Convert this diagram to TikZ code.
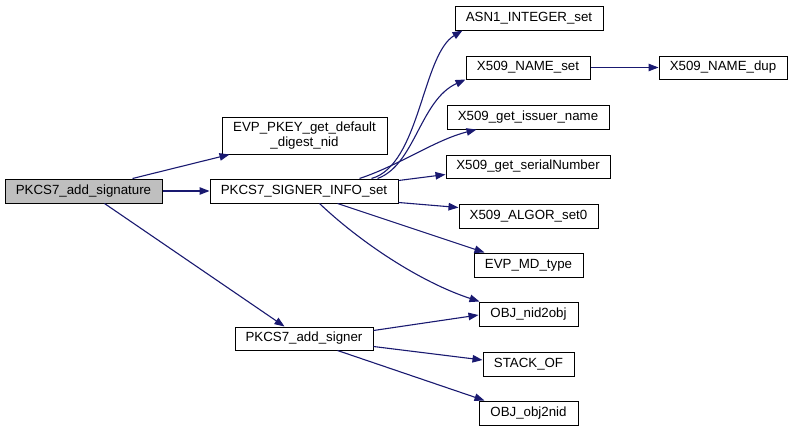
\documentclass[tikz,border=0pt]{standalone}
\usepackage{fontspec}
\setmainfont{Liberation Sans}
\usetikzlibrary{arrows.meta,calc}
\definecolor{edgecol}{HTML}{191970}
\definecolor{rootfill}{HTML}{BFBFBF}
\begin{document}
\begin{tikzpicture}[x=1pt,y=-1pt,
  box/.style={draw=black,line width=1pt,fill=white,inner sep=0pt,minimum height=24pt,
    font=\fontsize{13.3}{15}\selectfont,align=center},
  link/.style={draw=edgecol,line width=1.1pt,-{Triangle[length=10pt,width=7.5pt]}}]
\useasboundingbox (0,0) rectangle (793,431);
\node[box,fill=rootfill,minimum width=157pt] (sig) at (83.5,191) {PKCS7\_add\_signature};
\node[box,minimum width=165pt,minimum height=37pt] (evp) at (304.5,135.5) {EVP\_PKEY\_get\_default\\\_digest\_nid};
\node[box,minimum width=188pt] (sinfo) at (304,191) {PKCS7\_SIGNER\_INFO\_set};
\node[box,minimum width=148pt] (asn1) at (529,18) {ASN1\_INTEGER\_set};
\node[box,minimum width=124pt,minimum height=23pt] (nset) at (528,67.5) {X509\_NAME\_set};
\node[box,minimum width=128pt,minimum height=23pt] (ndup) at (723,67.5) {X509\_NAME\_dup};
\node[box,minimum width=162pt] (issuer) at (528,117) {X509\_get\_issuer\_name};
\node[box,minimum width=164pt,minimum height=23pt] (serial) at (528,166.5) {X509\_get\_serialNumber};
\node[box,minimum width=139pt] (algor) at (528.5,216) {X509\_ALGOR\_set0};
\node[box,minimum width=109pt] (mdtype) at (528.5,265) {EVP\_MD\_type};
\node[box,minimum width=99pt] (nid2obj) at (528.5,314) {OBJ\_nid2obj};
\node[box,minimum width=138pt,minimum height=23pt] (signer) at (304,338.5) {PKCS7\_add\_signer};
\node[box,minimum width=91pt] (stack) at (528.5,364) {STACK\_OF};
\node[box,minimum width=99pt] (obj2nid) at (528.5,413) {OBJ\_obj2nid};

\draw[link] ($(sig.north west)+(128,0)$) -- ($(evp.south west)+(8,0)$);
\draw[link] (sig.east) -- (sinfo.west);
\draw[link] ($(sig.south west)+(100,0)$) -- ($(signer.north west)+(50,0)$);

\draw[link] ($(sinfo.north west)+(162,0)$) .. controls (420,165) and (422,55) .. ($(asn1.south west)+(8,0)$);
\draw[link] ($(sinfo.north west)+(168,0)$) .. controls (415,165) and (420,100) .. ($(nset.south west)+(0,0)$);
\draw[link] ($(sinfo.north west)+(150,0)$) .. controls (400,165) and (435,140) .. ($(issuer.south west)+(30,0)$);
\draw[link] ($(sinfo.north east)+(0,2)$) -- ($(serial.south west)+(0,-4)$);
\draw[link] ($(sinfo.south east)+(0,-1)$) -- ($(algor.north west)+(0,4)$);
\draw[link] ($(sinfo.south west)+(128,0)$) -- ($(mdtype.north west)+(11,0)$);
\draw[link] ($(sinfo.south west)+(110,0)$) .. controls (360,242) and (420,282) .. ($(nid2obj.north west)+(1,0)$);

\draw[link] ($(signer.north east)+(0,4)$) -- ($(nid2obj.west)+(0,1)$);
\draw[link] ($(signer.south east)+(0,-4)$) -- ($(stack.west)+(0,-4)$);
\draw[link] ($(signer.south west)+(103,0)$) -- ($(obj2nid.north west)+(6,0)$);

\draw[link] (nset.east) -- (ndup.west);
\end{tikzpicture}
\end{document}
